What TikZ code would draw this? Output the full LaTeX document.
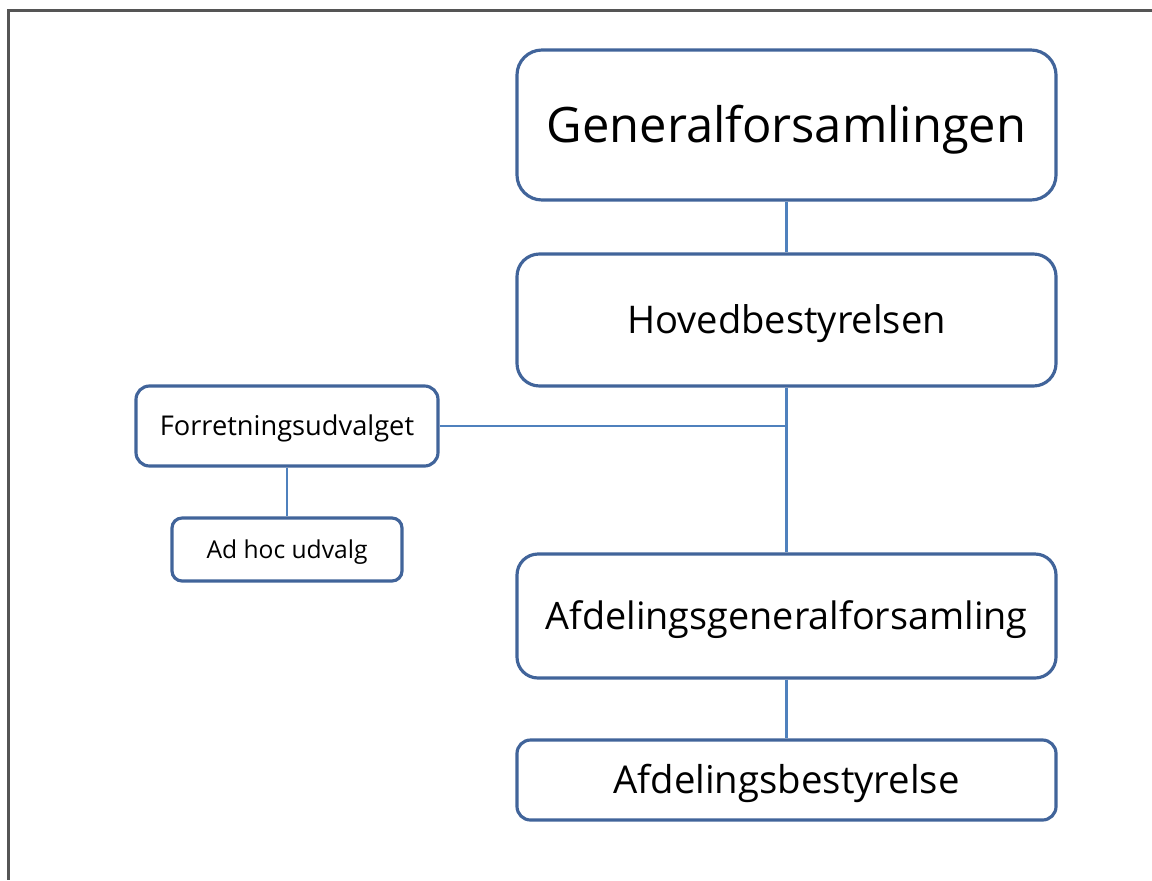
\documentclass[tikz,border=0pt]{standalone}
\usepackage{fontspec}
\setmainfont{Open Sans}
\definecolor{boxline}{HTML}{41649A}
\definecolor{linkline}{HTML}{4F81BD}
\definecolor{frameline}{HTML}{555555}
\tikzset{
  orgbox/.style={draw=boxline, line width=1.8pt, fill=white, inner sep=0pt, text depth=0pt},
  link/.style={draw=linkline, line width=1.4pt}
}
\begin{document}
\begin{tikzpicture}
    \useasboundingbox (0,0) rectangle (23.04,-17.6);
    \draw[frameline, line width=1.2pt] (23.04,-0.21) -- (0.17,-0.21) -- (0.17,-17.6);

    \node[orgbox, minimum width=10.78cm, minimum height=3cm, rounded corners=0.5cm,
      font=\fontsize{27.8}{32}\selectfont, text height=19.8pt] (genfor) at (15.73,-2.5) {Generalforsamlingen};
    \node[orgbox, minimum width=10.78cm, minimum height=2.64cm, rounded corners=0.45cm,
      font=\fontsize{21.7}{26}\selectfont, text height=15.5pt] (hoved) at (15.73,-6.4) {Hovedbestyrelsen};
    \node[orgbox, minimum width=6.04cm, minimum height=1.6cm, rounded corners=0.27cm,
      font=\fontsize{15.5}{18}\selectfont, text height=11.1pt] (forret) at (5.74,-8.52) {Forretningsudvalget};
    \node[orgbox, minimum width=4.6cm, minimum height=1.26cm, rounded corners=0.2cm,
      font=\fontsize{14}{17}\selectfont, text height=10pt] (adhoc) at (5.74,-10.99) {Ad hoc udvalg};
    \node[orgbox, minimum width=10.78cm, minimum height=2.48cm, rounded corners=0.42cm,
      font=\fontsize{21.5}{26}\selectfont, text height=15.4pt] (afdgen) at (15.73,-12.32) {Afdelingsgeneralforsamling};
    \node[orgbox, minimum width=10.78cm, minimum height=1.6cm, rounded corners=0.27cm,
      font=\fontsize{21.8}{26}\selectfont, text height=15.6pt] (afdbest) at (15.73,-15.6) {Afdelingsbestyrelse};

    \coordinate (junction) at (forret.east -| hoved.south);
    \draw[link] (genfor) -- (hoved);
    \draw[link] (hoved) -- (afdgen);
    \draw[link] (forret) -- (junction);
    \draw[link] (forret) -- (adhoc);
    \draw[link] (afdgen) -- (afdbest);
\end{tikzpicture}
\end{document}
